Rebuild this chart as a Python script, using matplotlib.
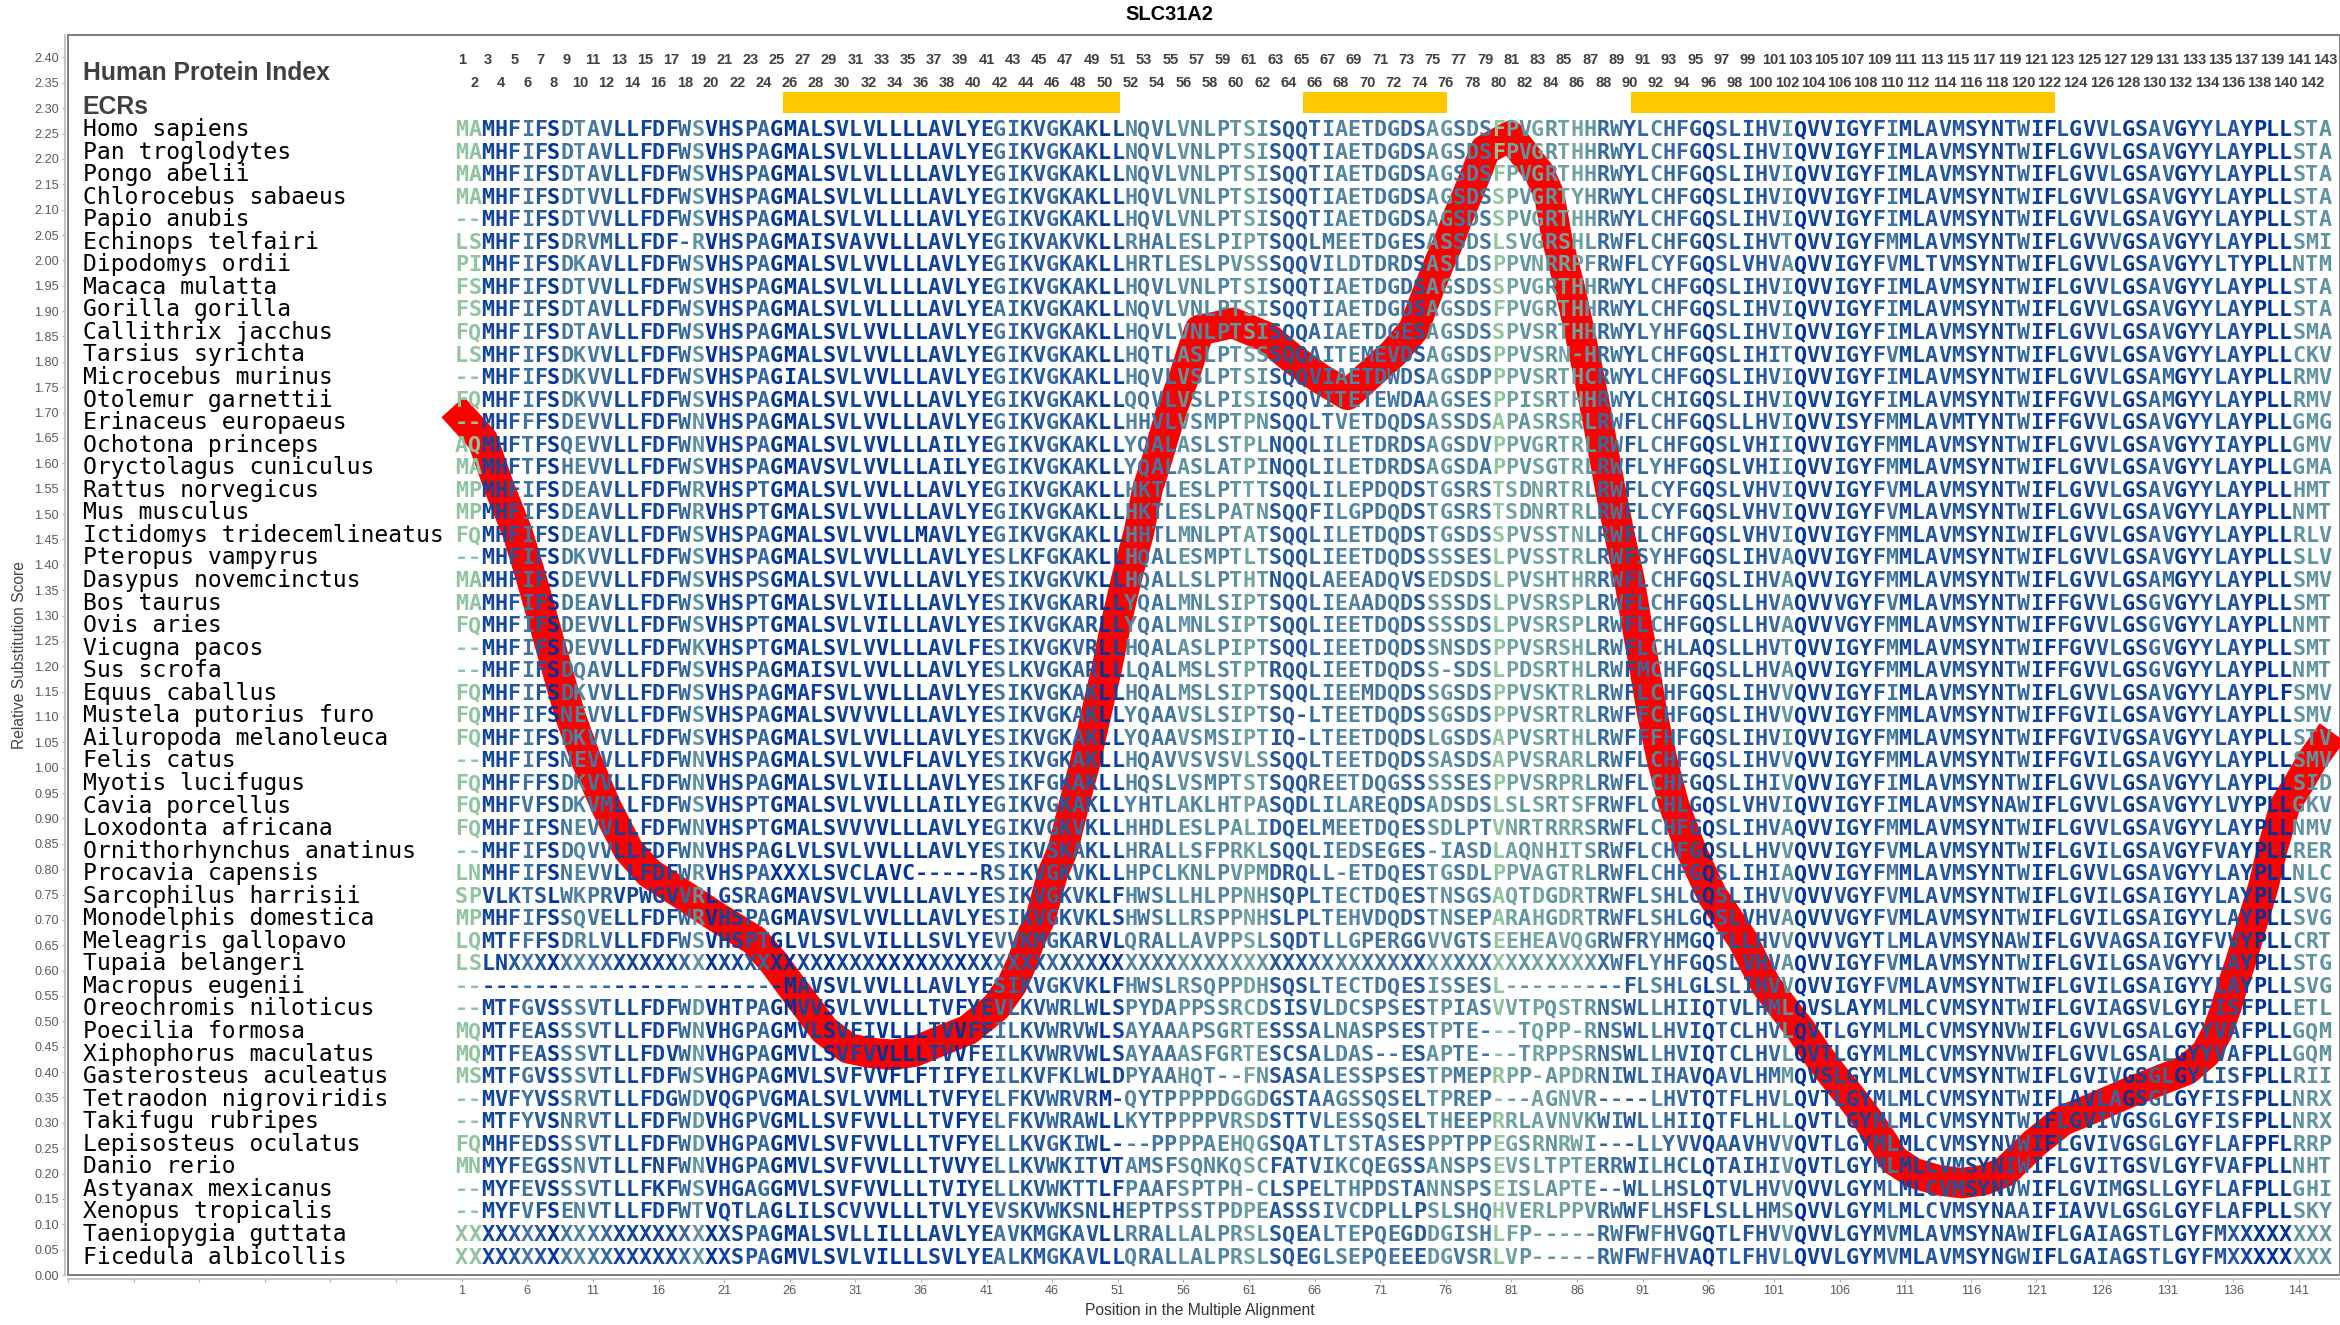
import matplotlib
matplotlib.use("Agg")
import matplotlib.pyplot as plt
from matplotlib.colors import LinearSegmentedColormap

W, H, DPI = 2340, 1325, 100
PX = 72.0 / DPI

species = ["Homo sapiens", "Pan troglodytes", "Pongo abelii", "Chlorocebus sabaeus", "Papio anubis",
           "Echinops telfairi", "Dipodomys ordii", "Macaca mulatta", "Gorilla gorilla", "Callithrix jacchus",
           "Tarsius syrichta", "Microcebus murinus", "Otolemur garnettii", "Erinaceus europaeus",
           "Ochotona princeps", "Oryctolagus cuniculus", "Rattus norvegicus", "Mus musculus",
           "Ictidomys tridecemlineatus", "Pteropus vampyrus", "Dasypus novemcinctus", "Bos taurus", "Ovis aries",
           "Vicugna pacos", "Sus scrofa", "Equus caballus", "Mustela putorius furo", "Ailuropoda melanoleuca",
           "Felis catus", "Myotis lucifugus", "Cavia porcellus", "Loxodonta africana", "Ornithorhynchus anatinus",
           "Procavia capensis", "Sarcophilus harrisii", "Monodelphis domestica", "Meleagris gallopavo",
           "Tupaia belangeri", "Macropus eugenii", "Oreochromis niloticus", "Poecilia formosa",
           "Xiphophorus maculatus", "Gasterosteus aculeatus", "Tetraodon nigroviridis", "Takifugu rubripes",
           "Lepisosteus oculatus", "Danio rerio", "Astyanax mexicanus", "Xenopus tropicalis",
           "Taeniopygia guttata", "Ficedula albicollis"]

# alignment: columns 1-25 | 26-51 | 52-79 | 80-87 | 88-143
sequences = [
    "MAMHFIFSDTAVLLFDFWSVHSPAG MALSVLVLLLLAVLYEGIKVGKAKLL NQVLVNLPTSISQQTIAETDGDSAGSDS FPVGRTHH RWYLCHFGQSLIHVIQVVIGYFIMLAVMSYNTWIFLGVVLGSAVGYYLAYPLLSTA",
    "MAMHFIFSDTAVLLFDFWSVHSPAG MALSVLVLLLLAVLYEGIKVGKAKLL NQVLVNLPTSISQQTIAETDGDSAGSDS FPVGRTHH RWYLCHFGQSLIHVIQVVIGYFIMLAVMSYNTWIFLGVVLGSAVGYYLAYPLLSTA",
    "MAMHFIFSDTAVLLFDFWSVHSPAG MALSVLVLLLLAVLYEGIKVGKAKLL NQVLVNLPTSISQQTIAETDGDSAGSDS FPVGRTHH RWYLCHFGQSLIHVIQVVIGYFIMLAVMSYNTWIFLGVVLGSAVGYYLAYPLLSTA",
    "MAMHFIFSDTVVLLFDFWSVHSPAG MALSVLVLLLLAVLYEGIKVGKAKLL HQVLVNLPTSISQQTIAETDGDSAGSDS SPVGRTYH RWYLCHFGQSLIHVIQVVIGYFIMLAVMSYNTWIFLGVVLGSAVGYYLAYPLLSTA",
    "--MHFIFSDTVVLLFDFWSVHSPAG MALSVLVLLLLAVLYEGIKVGKAKLL HQVLVNLPTSISQQTIAETDGDSAGSDS SPVGRTHH RWYLCHFGQSLIHVIQVVIGYFIMLAVMSYNTWIFLGVVLGSAVGYYLAYPLLSTA",
    "LSMHFIFSDRVMLLFDF-RVHSPAG MAISVAVVLLLAVLYEGIKVAKVKLL RHALESLPIPTSQQLMEETDGESASSDS LSVGRSHL RWFLCHFGQSLIHVTQVVIGYFMMLAVMSYNTWIFLGVVVGSAVGYYLAYPLLSMI",
    "PIMHFIFSDKAVLLFDFWSVHSPAG MALSVLVVLLLAVLYEGIKVGKAKLL HRTLESLPVSSSQQVILDTDRDSASLDS PPVNRRPF RWFLCYFGQSLVHVAQVVIGYFVMLTVMSYNTWIFLGVVLGSAVGYYLTYPLLNTM",
    "FSMHFIFSDTVVLLFDFWSVHSPAG MALSVLVLLLLAVLYEGIKVGKAKLL HQVLVNLPTSISQQTIAETDGDSAGSDS SPVGRTHH RWYLCHFGQSLIHVIQVVIGYFIMLAVMSYNTWIFLGVVLGSAVGYYLAYPLLSTA",
    "FSMHFIFSDTAVLLFDFWSVHSPAG MALSVLVLLLLAVLYEAIKVGKAKLL NQVLVNLPTSISQQTIAETDGDSAGSDS FPVGRTHH RWYLCHFGQSLIHVIQVVIGYFIMLAVMSYNTWIFLGVVLGSAVGYYLAYPLLSTA",
    "FQMHFIFSDTAVLLFDFWSVHSPAG MALSVLVVLLLAVLYEGIKVGKAKLL HQVLVNLPTSISQQAIAETDGESAGSDS SPVSRTHH RWYLYHFGQSLIHVIQVVIGYFIMLAVMSYNTWIFLGVVLGSAVGYYLAYPLLSMA",
    "LSMHFIFSDKVVLLFDFWSVHSPAG MALSVLVVLLLAVLYEGIKVGKAKLL HQTLASLPTSSSQQAITEMEVDSAGSDS PPVSRN-H RWYLCHFGQSLIHITQVVIGYFVMLAVMSYNTWIFLGVVLGSAVGYYLAYPLLCKV",
    "--MHFIFSDKVVLLFDFWSVHSPAG IALSVLVVLLLAVLYEGIKVGKAKLL HQVLVSLPTSISQQVIAETDWDSAGSDP PPVSRTHC RWYLCHFGQSLIHVIQVVIGYFIMLAVMSYNTWIFLGVVLGSAMGYYLAYPLLRMV",
    "FQMHFIFSDKVVLLFDFWSVHSPAG MALSVLVVLLLAVLYEGIKVGKAKLL QQVLVSLPISISQQVITETEWDAAGSES PPISRTHH RWYLCHIGQSLIHVIQVVIGYFIMLAVMSYNTWIFFGVVLGSAMGYYLAYPLLRMV",
    "--MHFFFSDEVVLLFDFWNVHSPAG MALSVLVVLLLAVLYEGIKVGKAKLL HHVLVSMPTPNSQQLTVETDQDSASSDS APASRSRL RWFLCHFGQSLLHVIQVVISYFMMLAVMTYNTWIFFGVVLGSAVGYYLAYPLLGMG",
    "AQMHFTFSQEVVLLFDFWNVHSPAG MALSVLVVLLLAILYEGIKVGKAKLL YQALASLSTPLNQQLILETDRDSAGSDV PPVGRTRL RWFLCHFGQSLVHIIQVVIGYFMMLAVMSYNTWIFLGVVLGSAVGYYIAYPLLGMV",
    "MAMHFTFSHEVVLLFDFWSVHSPAG MAVSVLVVLLLAILYEGIKVGKAKLL YQALASLATPINQQLILETDRDSAGSDA PPVSGTRL RWFLYHFGQSLVHIIQVVIGYFMMLAVMSYNTWIFLGVVLGSAVGYYLAYPLLGMA",
    "MPMHFIFSDEAVLLFDFWRVHSPTG MALSVLVVLLLAVLYEGIKVGKAKLL HKTLESLPTTTSQQLILEPDQDSTGSRS TSDNRTRL RWFLCYFGQSLVHVIQVVIGYFVMLAVMSYNTWIFLGVVLGSAVGYYLAYPLLHMT",
    "MPMHFIFSDEAVLLFDFWRVHSPTG MALSVLVVLLLAVLYEGIKVGKAKLL HKTLESLPATNSQQFILGPDQDSTGSRS TSDNRTRL RWFLCYFGQSLVHVIQVVIGYFVMLAVMSYNTWIFLGVVLGSAVGYYLAYPLLNMT",
    "FQMHFIFSDEAVLLFDFWSVHSPAG MALSVLVVLLMAVLYEGIKVGKAKLL HHTLMNLPTATSQQLILETDQDSTGSDS SPVSSTNL RWFLCHFGQSLVHVIQVVIGYFMMLAVMSYNIWIFLGVVLGSAVGYYLAYPLLRLV",
    "--MHFIFSDKVVLLFDFWSVHSPAG MALSVLVVLLLAVLYESLKFGKAKLL HQALESMPTLTSQQLIEETDQDSSSSES LPVSSTRL RWFSYHFGQSLIHVAQVVIGYFMMLAVMSYNTWIFLGVVLGSAVGYYLAYPLLSLV",
    "MAMHFIFSDEVVLLFDFWSVHSPSG MALSVLVVLLLAVLYESIKVGKVKLL HQALLSLPTHTNQQLAEEADQVSEDSDS LPVSHTHR RWFLCHFGQSLIHVAQVVIGYFMMLAVMSYNTWIFLGVVLGSAMGYYLAYPLLSMV",
    "MAMHFIFSDEAVLLFDFWSVHSPTG MALSVLVILLLAVLYESIKVGKARLL YQALMNLSIPTSQQLIEAADQDSSSSDS LPVSRSPL RWFLCHFGQSLLHVAQVVVGYFVMLAVMSYNTWIFFGVVLGSGVGYYLAYPLLSMT",
    "FQMHFIFSDEVVLLFDFWSVHSPTG MALSVLVILLLAVLYESIKVGKARLL YQALMNLSIPTSQQLIEETDQDSSSSDS LPVSRSPL RWFLCHFGQSLLHVAQVVVGYFMMLAVMSYNTWIFFGVVLGSGVGYYLAYPLLNMT",
    "--MHFIFSDEVVLLFDFWKVHSPTG MALSVLVVLLLAVLFESIKVGKVRLL HQALASLPIPTSQQLIEETDQDSSNSDS PPVSRSHL RWFLCHLAQSLLHVTQVVIGYFMMLAVMSYNTWIFFGVVLGSGVGYYLAYPLLSMT",
    "--MHFIFSDQAVLLFDFWSVHSPAG MAISVLVVLLLAVLYESLKVGKARLL LQALMSLSTPTRQQLIEETDQDSS-SDS LPDSRTHL RWFMCHFGQSLLHVAQVVIGYFMMLAVMSYNTWIFFGVVLGSGVGYYLAYPLLNMT",
    "FQMHFIFSDKVVLLFDFWSVHSPAG MAFSVLVVLLLAVLYESIKVGKAKLL HQALMSLSIPTSQQLIEEMDQDSSGSDS PPVSKTRL RWFLCHFGQSLIHVVQVVIGYFIMLAVMSYNTWIFLGVVLGSAVGYYLAYPLFSMV",
    "FQMHFIFSNEVVLLFDFWSVHSPAG MALSVVVVLLLAVLYESIKVGKAKLL YQAAVSLSIPTSQ-LTEETDQDSSGSDS PPVSRTRL RWFFCHFGQSLIHVVQVVIGYFMMLAVMSYNTWIFFGVILGSAVGYYLAYPLLSMV",
    "FQMHFIFSDKVVLLFDFWSVHSPAG MALSVLVVLLLAVLYESIKVGKAKLL YQAAVSMSIPTIQ-LTEETDQDSLGSDS APVSRTHL RWFFFHFGQSLIHVIQVVIGYFMMLAVMSYNTWIFFGVIVGSAVGYYLAYPLLSTV",
    "--MHFIFSNEVVLLFDFWNVHSPAG MALSVLVVLFLAVLYESIKVGKAKLL HQAVVSVSVLSSQQLTEETDQDSSASDS APVSRARL RWFLCHFGQSLIHVVQVVIGYFMMLAVMSYNTWIFFGVILGSAVGYYLAYPLLSMV",
    "FQMHFFFSDKVVLLFDFWNVHSPAG MALSVLVILLLAVLYESIKFGKAKLL HQSLVSMPTSTSQQREETDQGSSSSSES PPVSRPRL RWFLCHFGQSLIHIVQVVIGYFIMLAVMSYNTWIFLGVVLGSAVGYYLAYPLLSID",
    "FQMHFVFSDKVMLLFDFWSVHSPTG MALSVLVVLLLAILYEGIKVGKAKLL YHTLAKLHTPASQDLILAREQDSADSDS LSLSRTSF RWFLCHLGQSLVHVIQVVIGYFIMLAVMSYNAWIFLGVVLGSAVGYYLVYPLLGKV",
    "FQMHFIFSNEVVLLFDFWNVHSPTG MALSVVVVLLLAVLYEGIKVGKVKLL HHDLESLPALIDQELMEETDQESSDLPT VNRTRRRS RWFLCHFGQSLIHVAQVVIGYFMMLAVMSYNTWIFLGVVLGSAVGYYLAYPLLNMV",
    "--MHFIFSDQVVLLFDFWNVHSPAG LVLSVLVVLLLAVLYESIKVSKAKLL HRALLSFPRKLSQQLIEDSEGES-IASD LAQNHITS RWFLCHFGQSLLHVVQVVIGYFVMLAVMSYNTWIFLGVILGSAVGYFVAYPLLRER",
    "LNMHFIFSNEVVLLFDFWRVHSPAX XXLSVCLAVC-----RSIKVGKVKLL HPCLKNLPVPMDRQLL-ETDQESTGSDL PPVAGTRL RWFLCHFGQSLIHIAQVVIGYFMMLAVMSYNTWIFLGVVLGSAVGYYLAYPLLNLC",
    "SPVLKTSLWKPRVPWGVVRLGSRAG MAVSVLVVLLLAVLYESIKVGKVKLF HWSLLHLPPNHSQPLTECTDQESTNSGS AQTDGDRT RWFLSHLGQSLIHVVQVVVGYFVMLAVMSYNTWIFLGVILGSAIGYYLAYPLLSVG",
    "MPMHFIFSSQVELLFDFWRVHSPAG MAVSVLVVLLLAVLYESIKVGKVKLS HWSLLRSPPNHSLPLTEHVDQDSTNSEP ARAHGDRT RWFLSHLGQSLVHVAQVVVGYFVMLAVMSYNTWIFLGVILGSAIGYYLAYPLLSVG",
    "LQMTFFFSDRLVLLFDFWSVHSPTG LVLSVLVILLLSVLYEVVKMGKARVL QRALLAVPPSLSQDTLLGPERGGVVGTS EEHEAVQG RWFRYHMGQTLLHVVQVVVGYTLMLAVMSYNAWIFLGVVAGSAIGYFVVYPLLCRT",
    "LSLNXXXXXXXXXXXXXXXXXXXXX XXXXXXXXXXXXXXXXXXXXXXXXXX XXXXXXXXXXXXXXXXXXXXXXXXXXXX XXXXXXXX XWFLYHFGQSLVHVAQVVIGYFVMLAVMSYNTWIFLGVILGSAVGYYLAYPLLSTG",
    "------------------------- MAVSVLVVLLLAVLYESIKVGKVKLF HWSLRSQPPDHSQSLTECTDQESISSES L------- --FLSHLGLSLIHVVQVVIGYFVMLAVMSYNTWIFLGVILGSAIGYYLAYPLLSVG",
    "--MTFGVSSSVTLLFDFWDVHTPAG MVVSVLVVLLLTVFYEVLKVWRLWLS PYDAPPSSRCDSISVLDCSPSESTPIAS VVTPQSTR NSWLLHIIQTVLHMLQVSLAYMLMLCVMSYNTWIFLGVIAGSVLGYFISFPLLETL",
    "MQMTFEASSSVTLLFDFWNVHGPAG MVLSVFIVLLLTVVFEILKVWRVWLS AYAAAPSGRTESSSALNASPSESTPTE- --TQPP-R NSWLLHVIQTCLHVLQVTLGYMLMLCVMSYNVWIFLGVVLGSALGYYVAFPLLGQM",
    "MQMTFEASSSVTLLFDVWNVHGPAG MVLSVFVVLLLTVVFEILKVWRVWLS AYAAASFGRTESCSALDAS--ESAPTE- --TRPPSR NSWLLHVIQTCLHVLQVTLGYMLMLCVMSYNVWIFLGVVLGSALGYYVAFPLLGQM",
    "MSMTFGVSSSVTLLFDFWSVHGPAG MVLSVFVVFLFTIFYEILKVFKLWLD PYAAHQT--FNSASALESSPSESTPMEP RPP-APDR NIWLIHAVQAVLHMMQVSLGYMLMLCVMSYNTWIFLGVIVGSGLGYLISFPLLRII",
    "--MVFYVSSRVTLLFDGWDVQGPVG MALSVLVVMLLTVFYELFKVWRVRM- QYTPPPPDGGDGSTAAGSSQSELTPREP ---AGNVR ----LHVTQTFLHVLQVTLGYMLMLCVMSYNTWIFLAVLAGSGLGYFISFPLLNRX",
    "--MTFYVSNRVTLLFDFWDVHGPVG MLLSVFVVLLLTVFYELFKVWRAWLL KYTPPPPVRSDSTTVLESSQSELTHEEP RRLAVNVK WIWLLHIIQTFLHLLQVTLGYMLMLCVMSYNTWIFLGVIVGSGLGYFISFPLLNRX",
    "FQMHFEDSSSVTLLFDFWDVHGPAG MVLSVFVVLLLTVFYELLKVGKIWL- --PPPPAEHQGSQATLTSTASESPPTPP EGSRNRWI ---LLYVVQAAVHVVQVTLGYMLMLCVMSYNVWIFLGVIVGSGLGYFLAFPFLRRP",
    "MNMYFEGSSNVTLLFNFWNVHGPAG MVLSVFVVLLLTVVYELLKVWKITVT AMSFSQNKQSCFATVIKCQEGSSANSPS EVSLTPTE RRWILHCLQTAIHIVQVTLGYMLMLCVMSYNIWIFLGVITGSVLGYFVAFPLLNHT",
    "--MYFEVSSSVTLLFKFWSVHGAGG MVLSVFVVLLLTVIYELLKVWKTTLF PAAFSPTPH-CLSPELTHPDSTANNSPS EISLAPTE --WLLHSLQTVLHVVQVVLGYMLMLCVMSYNVWIFLGVIMGSLLGYFLAFPLLGHI",
    "--MYFVFSENVTLLFDFWTVQTLAG LILSCVVVLLLTVLYEVSKVWKSNLH EPTPSSTPDPEASSSIVCDPLLPSLSHQ HVERLPPV RWWFLHSFLSLLHMSQVVLGYMLMLCVMSYNAAIFIAVVLGSGLGYFLAFPLLSKY",
    "XXXXXXXXXXXXXXXXXXXXXSPAG MALSVLLILLLAVLYEAVKMGKAVLL RRALLALPRSLSQEALTEPQEGDDGISH LFP----- RWFWFHVGQTLFHVVQVVLGYMVMLAVMSYNAWIFLGAIAGSTLGYFMXXXXXXXX",
    "XXXXXXXXXXXXXXXXXXXXXSPAG MVLSVLVILLLSVLYEALKMGKAVLL QRALLALPRSLSQEGLSEPQEEEDGVSR LVP----- RWFWFHVAQTLFHVLQVVLGYMVMLAVMSYNGWIFLGAIAGSTLGYFMXXXXXXXX",
]

# conservation level (0 pale green .. 9 deep blue) of each alignment column
column_levels = [0, 0, 8, 8, 7, 5, 7, 9, 5, 4, 5, 6, 8, 8, 8, 8, 8, 6, 3, 9, 8, 8, 7, 6, 9,
                 9, 8, 8, 9, 8, 8, 8, 9, 9, 9, 9, 8, 8, 9, 8, 8, 5, 6, 7, 7, 6, 7, 6, 7, 9, 8,
                 4, 5, 5, 5, 3, 4, 4, 4, 3, 2, 3, 7, 7, 7, 6, 5, 4, 4, 5, 5, 5, 6, 7, 3, 3, 5, 4, 5,
                 0, 2, 3, 2, 3, 2, 2, 3,
                 6, 5, 7, 6, 4, 6, 6, 7, 9, 6, 7, 7, 7, 6, 3, 9, 8, 8, 7, 8, 8, 7, 5, 8, 8, 7, 7, 7,
                 8, 8, 8, 7, 6, 8, 9, 7, 8, 8, 7, 6, 9, 8, 6, 6, 9, 8, 7, 7, 7, 8, 9, 9, 9, 3, 3, 3]

ecr_start = [25.5, 65.15, 90.1]
ecr_end = [51.2, 76.1, 122.4]

curve_pos = [0.32, 2.6, 3.89, 5.26, 6.3, 7.3, 8.25, 9.25, 10.5, 11.96, 13.7, 15.31, 17.89, 20.41, 23.3, 24.82,
             26.04, 27.33, 28.63, 30.45, 32.13, 33.8, 35.47, 37.07, 39.58, 41.72, 42.93, 43.69, 44.3, 45.14,
             46.05, 46.81, 47.65, 48.56, 49.33, 50.16, 50.85, 51.68, 52.6, 53.28, 53.82, 55.11, 56.05, 56.63,
             57.24, 58.46, 59.75, 62.34, 64.24, 66.37, 68.5, 72.0, 73.53, 74.82, 75.5, 76.27, 76.9, 77.64,
             78.32, 79.0, 80.91, 83.12, 83.88, 84.49, 85.4, 86.16, 86.92, 87.6, 88.52, 89.2, 89.96, 90.55,
             91.15, 91.75, 92.48, 93.39, 94.68, 96.28, 97.42, 98.64, 99.5, 100.39, 101.68, 103.05, 104.2,
             105.49, 106.86, 108.23, 109.37, 110.13, 111.65, 113.48, 115.3, 116.98, 118.58, 120.86, 122.99,
             125.5, 128.17, 130.83, 132.43, 133.95, 134.86, 135.47, 135.98, 136.54, 137.07, 137.6, 138.29,
             138.97, 139.96, 141.03, 142.02, 143.54]
curve_score = [1.711, 1.646, 1.551, 1.463, 1.374, 1.283, 1.195, 1.104, 1.015, 0.926, 0.838, 0.792, 0.749, 0.706, 0.66, 0.615,
               0.572, 0.528, 0.483, 0.447, 0.438, 0.434, 0.44, 0.457, 0.483, 0.528, 0.572, 0.615, 0.66, 0.706,
               0.792, 0.838, 0.926, 1.015, 1.104, 1.195, 1.283, 1.374, 1.463, 1.551, 1.593, 1.705, 1.77, 1.817,
               1.863, 1.869, 1.877, 1.849, 1.808, 1.768, 1.735, 1.817, 1.863, 1.951, 1.995, 2.04, 2.084, 2.129,
               2.172, 2.218, 2.245, 2.172, 2.129, 2.04, 1.951, 1.863, 1.77, 1.681, 1.551, 1.463, 1.374, 1.283,
               1.195, 1.104, 1.015, 0.926, 0.838, 0.749, 0.706, 0.66, 0.615, 0.572, 0.528, 0.483, 0.438,
               0.394, 0.351, 0.304, 0.26, 0.227, 0.201, 0.187, 0.181, 0.187, 0.203, 0.26, 0.304,
               0.331, 0.361, 0.388, 0.404, 0.438, 0.483, 0.528, 0.572, 0.615, 0.66, 0.706, 0.765,
               0.838, 0.926, 0.97, 1.015, 1.07]

y_ticks = [round(i * 0.05, 2) for i in range(49)]
x_ticks = list(range(-29, 142, 5))
n_cols = 143

seqs = [s.replace(" ", "") for s in sequences]
for name, s in zip(species, seqs):
    assert len(s) == n_cols, (name, len(s))
assert len(column_levels) == n_cols and len(curve_pos) == len(curve_score)

# layout in pixels of the source picture
left, right, top, bottom = 68, 2340, 35, 1275
x_pitch, x_one = 13.136, 459.7
y_unit = 507.3
xlim = (1 + (left - x_one) / x_pitch, 1 + (right - x_one) / x_pitch)
ylim = (0, (bottom - top) / y_unit)

fig = plt.figure(figsize=(W / DPI, H / DPI), dpi=DPI, facecolor="white")
ax = fig.add_axes([left / W, 1 - bottom / H, (right - left) / W, (bottom - top) / H])
ax.set_xlim(*xlim)
ax.set_ylim(*ylim)
ax.patch.set_visible(False)

GREY = "#5a5a5a"
for side in ("top", "right"):
    ax.spines[side].set_visible(False)
ax.spines["left"].set_position(("outward", 3 * PX))
ax.spines["bottom"].set_position(("outward", 4 * PX))
for side in ("left", "bottom"):
    ax.spines[side].set_color("#b4b4b4")
    ax.spines[side].set_linewidth(1.5 * PX)
ax.add_patch(plt.Rectangle((0, 0), 1, 1, transform=ax.transAxes, fill=False,
                           edgecolor="#808080", linewidth=2 * PX, clip_on=False, zorder=1))

ax.set_yticks(y_ticks)
ax.set_yticklabels([f"{v:.2f}" for v in y_ticks])
ax.set_xticks(x_ticks)
ax.set_xticklabels([str(v) if v >= 1 else "" for v in x_ticks])
ax.tick_params(axis="both", length=3 * PX, width=1.2 * PX, color="#b4b4b4", labelcolor=GREY,
               labelsize=12.6 * PX, pad=3 * PX)
for lab in ax.get_xticklabels() + ax.get_yticklabels():
    lab.set_family("Liberation Sans")

# conserved regions
for a, b in zip(ecr_start, ecr_end):
    ax.fill_between([a, b], (bottom - 113) / y_unit, (bottom - 92) / y_unit,
                    color="#ffc800", linewidth=0, zorder=1)

# substitution score curve
ax.plot(curve_pos, curve_score, color="#ff0000", linewidth=30.5 * PX,
        solid_capstyle="butt", solid_joinstyle="round", zorder=2)

# alignment letters
cmap = LinearSegmentedColormap.from_list("cons", ["#8fc49f", "#5f93a0", "#34689f", "#003399"])
row0 = (bottom - 136) / y_unit
row_step = 22.55 / y_unit
mono = "DejaVu Sans Mono"
name_x = 1 + (80.5 - x_one) / x_pitch
for r, (name, s) in enumerate(zip(species, seqs)):
    y = row0 - r * row_step
    ax.text(name_x, y, name, family=mono, fontsize=23 * PX, color="black",
            ha="left", va="baseline", zorder=3)
    for c, ch in enumerate(s):
        ax.text(c + 1, y, ch, family=mono, weight="bold", fontsize=21.8 * PX,
                color=cmap(column_levels[c] / 9), ha="center", va="baseline", zorder=3)

# column index header
for i in range(1, n_cols + 1):
    py = 60 if i % 2 else 83
    ax.text(i, (bottom - py) / y_unit, str(i), family="Liberation Sans", weight="bold",
            fontsize=14.6 * PX, color="#404040", ha="center", va="center", zorder=3)

for label, py in (("Human Protein Index", 73.5), ("ECRs", 107.5)):
    ax.text(name_x, (bottom - py) / y_unit, label, family="Liberation Sans",
            weight="bold", fontsize=24.7 * PX, color="#404040", ha="left", va="center", zorder=3)

fig.text(1169 / W, 1 - 14 / H, "SLC31A2", family="Liberation Sans", weight="bold",
         fontsize=20 * PX, color="black", ha="center", va="center")
fig.text(1200 / W, 1 - 1310 / H, "Position in the Multiple Alignment", family="Liberation Sans",
         fontsize=15.6 * PX, color="#333333", ha="center", va="center")
fig.text(19.5 / W, 1 - 655 / H, "Relative Substitution Score", family="Liberation Sans",
         fontsize=15.6 * PX, color="#444444", rotation=90, ha="center", va="center")

fig.savefig("out.png", dpi=DPI)
